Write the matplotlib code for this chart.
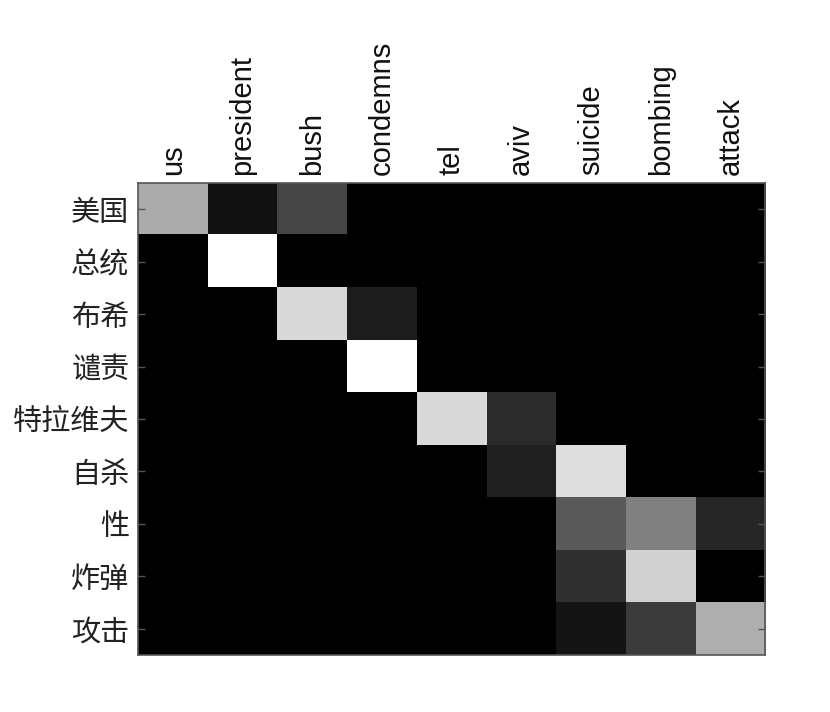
import matplotlib
matplotlib.use("Agg")
import matplotlib.pyplot as plt
import numpy as np

plt.rcParams['font.family'] = ['Liberation Sans', 'Noto Sans CJK SC', 'DejaVu Sans']

src_tokens = ["us", "president", "bush", "condemns", "tel", "aviv", "suicide", "bombing", "attack"]
tgt_tokens = ["美国", "总统", "布希", "谴责", "特拉维夫", "自杀", "性", "炸弹", "攻击"]

row_0 = [0.67, 0.07, 0.27, 0.0, 0.0, 0.0, 0.0, 0.0, 0.0]
row_1 = [0.0, 1.0, 0.0, 0.0, 0.0, 0.0, 0.0, 0.0, 0.0]
row_2 = [0.0, 0.0, 0.85, 0.11, 0.0, 0.0, 0.0, 0.0, 0.0]
row_3 = [0.0, 0.0, 0.0, 1.0, 0.0, 0.0, 0.0, 0.0, 0.0]
row_4 = [0.0, 0.0, 0.0, 0.0, 0.85, 0.17, 0.0, 0.0, 0.0]
row_5 = [0.0, 0.0, 0.0, 0.0, 0.0, 0.13, 0.87, 0.0, 0.0]
row_6 = [0.0, 0.0, 0.0, 0.0, 0.0, 0.0, 0.35, 0.50, 0.15]
row_7 = [0.0, 0.0, 0.0, 0.0, 0.0, 0.0, 0.19, 0.82, 0.0]
row_8 = [0.0, 0.0, 0.0, 0.0, 0.0, 0.0, 0.08, 0.23, 0.68]

attn = np.array([row_0, row_1, row_2, row_3, row_4, row_5, row_6, row_7, row_8])

fig = plt.figure(figsize=(8.3, 7.12), dpi=100)
ax = fig.add_axes([0.166, 0.080, 0.756, 0.663])
ax.imshow(attn, cmap='gray', vmin=0, vmax=1, interpolation='nearest', aspect='auto')

ax.xaxis.tick_top()
ax.set_xticks(range(len(src_tokens)))
ax.set_xticklabels(src_tokens, rotation=90, fontsize=21, color='#111111')
ax.set_yticks(range(len(tgt_tokens)))
ax.set_yticklabels(tgt_tokens, fontsize=21, color='#222222',
                   family=['Noto Sans CJK SC', 'DejaVu Sans'], fontweight='light')
ax.tick_params(axis='both', direction='in', length=5, width=1, color='#555555', pad=6,
               top=False, bottom=False, left=True, right=True, labeltop=True, labelbottom=False)
for s in ax.spines.values():
    s.set_color('#555555')
    s.set_linewidth(1.2)

fig.savefig("out.png", dpi=100)
